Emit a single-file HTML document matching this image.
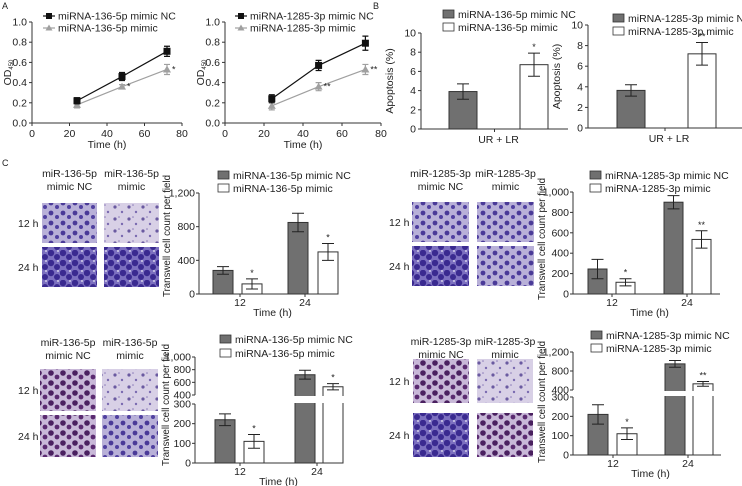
<!DOCTYPE html>
<html><head><meta charset="utf-8"><style>
body{margin:0;background:#fff}
svg{display:block;font-family:"Liberation Sans",sans-serif}
</style></head><body>
<svg id="fig" width="742" height="486" viewBox="0 0 742 486" xmlns="http://www.w3.org/2000/svg">
<defs>
<pattern id="sparse" width="14" height="12" patternUnits="userSpaceOnUse"><rect width="14" height="12" fill="#d8d0e6"/><circle cx="3" cy="3" r="1.6" fill="#6a5aa0"/><circle cx="10" cy="8" r="1.2" fill="#7a6ab0"/><circle cx="7" cy="1" r="0.8" fill="#8a7ab8"/></pattern>
<pattern id="mid" width="12" height="10" patternUnits="userSpaceOnUse"><rect width="12" height="10" fill="#b8b0d8"/><circle cx="3" cy="3" r="2.4" fill="#4a3a98"/><circle cx="9" cy="7" r="2" fill="#5040a0"/></pattern>
<pattern id="dense" width="12" height="10" patternUnits="userSpaceOnUse"><rect width="12" height="10" fill="#7c70c0"/><circle cx="3" cy="3" r="3.2" fill="#3a2a90"/><circle cx="9" cy="7" r="3" fill="#3a2a90"/><circle cx="10" cy="1" r="1" fill="#d0cce8"/></pattern>
<pattern id="purple" width="12" height="10" patternUnits="userSpaceOnUse"><rect width="12" height="10" fill="#c8b8d8"/><circle cx="3" cy="3" r="2.8" fill="#4a2060"/><circle cx="9" cy="7" r="2.4" fill="#5a2a70"/></pattern>
</defs>
</svg>
<script>
// ---------- data ----------
const lineTimes=[24,48,72];
const a1NC=[0.22,0.46,0.71], a1NCerr=[0.03,0.04,0.05];
const a1Mi=[0.18,0.36,0.53], a1Mierr=[0.03,0.02,0.05];
const a2NC=[0.24,0.57,0.79], a2NCerr=[0.04,0.05,0.07];
const a2Mi=[0.17,0.36,0.53], a2Mierr=[0.04,0.04,0.05];
const lineXTicks=[0,20,40,60,80];
const lineYTicks=[0.0,0.2,0.4,0.6,0.8,1.0];
const b1Vals=[3.9,6.7], b1Err=[0.8,1.2];
const b2Vals=[3.65,7.2], b2Err=[0.55,1.1];
const bYTicks=[0,2,4,6,8,10];
const cCats=["12","24"];
const c1NC=[280,850], c1NCerr=[45,110], c1Mi=[120,500], c1Mierr=[60,100];
const c1Ticks=[0,400,800,1200];
const c2NC=[245,900], c2NCerr=[95,65], c2Mi=[115,535], c2Mierr=[35,85];
const c2Ticks=[0,200,400,600,800,1000];
const c3NC=[220,720], c3NCerr=[30,70], c3Mi=[110,530], c3Mierr=[35,50];
const c3LowTicks=[0,100,200,300], c3HighTicks=[400,600,800,1000];
const c4NC=[210,950], c4NCerr=[50,70], c4Mi=[110,530], c4Mierr=[30,50];
const c4LowTicks=[0,100,200,300], c4HighTicks=[400,800,1200];

const svg=document.getElementById('fig');
const NS='http://www.w3.org/2000/svg';
function el(tag,attrs,parent){const e=document.createElementNS(NS,tag);for(const k in attrs)e.setAttribute(k,attrs[k]);(parent||svg).appendChild(e);return e;}
function txt(s,x,y,attrs,parent){const t=el('text',Object.assign({x:x,y:y,'font-size':10.5,fill:'#222'},attrs||{}),parent);t.textContent=s;return t;}
function fmt(v){return v>=1000?(Math.floor(v/1000)+','+String(v%1000).padStart(3,'0')):String(v);}

[["A",2,9],["B",373,9],["C",2,166]].forEach(p=>{const t=txt(p[0],p[1],p[2],{'font-size':9});

});

// ---------- line charts ----------
function lineChart(name,x0,x1,xmax,yb,yt,ymax,nc,ncE,mi,miE,miStars,legNC,legMi,lx){
  const g=el('g',{});
  
  
  const X=v=>x0+(x1-x0)*v/xmax, Y=v=>yb-(yb-yt)*v/ymax;
  el('line',{x1:x0,y1:yb,x2:x1,y2:yb,stroke:'#333'},g);
  el('line',{x1:x0,y1:yb,x2:x0,y2:yt,stroke:'#333'},g);
  lineXTicks.forEach(v=>{el('line',{x1:X(v),y1:yb,x2:X(v),y2:yb+3,stroke:'#333'},g);
    const t=txt(String(v),X(v),yb+14,{'text-anchor':'middle'},g);
    });
  lineYTicks.forEach(v=>{el('line',{x1:x0-3,y1:Y(v),x2:x0,y2:Y(v),stroke:'#333'},g);
    const t=txt(v.toFixed(1),x0-5,Y(v)+3.5,{'text-anchor':'end'},g);
    });
  const xt=txt('Time (h)',(x0+X(80))/2,yb+25,{'text-anchor':'middle'},g);
  
  const yt2=el('text',{x:0,y:0,'font-size':10.5,fill:'#222','text-anchor':'middle',transform:`translate(${x0-21},${(yb+yt)/2}) rotate(-90)`},g);
  yt2.innerHTML='OD<tspan font-size="6" dy="2">450</tspan>';
  
  [[mi,miE,'#a0a0a0','tri'],[nc,ncE,'#111','sq']].forEach(s=>{
    const pts=lineTimes.map((t,i)=>X(t)+','+Y(s[0][i])).join(' ');
    const pl=el('polyline',{points:pts,fill:'none',stroke:s[2],'stroke-width':1.2},g);
    
    lineTimes.forEach((t,i)=>{const x=X(t),y=Y(s[0][i]),e=s[1][i];
      el('path',{d:`M${x},${Y(s[0][i]+e)}V${Y(s[0][i]-e)}M${x-3},${Y(s[0][i]+e)}h6M${x-3},${Y(s[0][i]-e)}h6`,stroke:s[2],'stroke-width':1.2,fill:'none'},g);
      let m;
      if(s[3]==='sq') m=el('rect',{x:x-3.5,y:y-3.5,width:7,height:7,fill:s[2]},g);
      else m=el('path',{d:`M${x},${y-4}L${x+4},${y+3}L${x-4},${y+3}Z`,fill:s[2]},g);
      
      if(s[3]==='tri'&&i>0){const st=txt(miStars[i],x+5,y+3,{'font-size':9},g);
        }
    });
  });
  [[legNC,'#111','sq',16],[legMi,'#a0a0a0','tri',28]].forEach(l=>{
    el('line',{x1:lx-6,y1:l[3],x2:lx+6,y2:l[3],stroke:l[1],'stroke-width':1.2},g);
    if(l[2]==='sq') el('rect',{x:lx-3,y:l[3]-3,width:6,height:6,fill:l[1]},g);
    else el('path',{d:`M${lx},${l[3]-3.5}L${lx+3.5},${l[3]+2.5}L${lx-3.5},${l[3]+2.5}Z`,fill:l[1]},g);
    const t=txt(l[0],lx+9,l[3]+3.5,{'font-size':10.5},g);
    
  });
}
lineChart('line-chart-136',32,182,80,123,22,1.0,a1NC,a1NCerr,a1Mi,a1Mierr,['','*','*'],'miRNA-136-5p mimic NC','miRNA-136-5p mimic',49);
lineChart('line-chart-1285',225,381,80,123,22,1.0,a2NC,a2NCerr,a2Mi,a2Mierr,['','**','**'],'miRNA-1285-3p mimic NC','miRNA-1285-3p mimic',241);

function legend(g,x,y1,y2,ncText,miText){
  [[ncText,'#707070',y1],[miText,'#fff',y2]].forEach(l=>{
    const r=el('rect',{x:x,y:l[2]-4,width:11,height:8,fill:l[1],stroke:'#333','stroke-width':0.8},g);
    
    const t=txt(l[0],x+15,l[2]+4,{'font-size':10.5},g);
    
  });
}
function errBar(g,x,yTop,yBot,w){
  el('path',{d:`M${x},${yTop}V${yBot}M${x-w},${yTop}h${2*w}M${x-w},${yBot}h${2*w}`,stroke:'#222','stroke-width':1,fill:'none'},g);
}

// ---------- apoptosis bars ----------
function apopChart(name,x0,x1,yb,yt,vals,errs,bx,bw,stars,ncText,miText,lx,ly1,ly2){
  const g=el('g',{});
  
  
  const Y=v=>yb-(yb-yt)*v/10;
  el('line',{x1:x0,y1:yb,x2:x1,y2:yb,stroke:'#333'},g);
  el('line',{x1:x0,y1:yb,x2:x0,y2:yt,stroke:'#333'},g);
  el('line',{x1:(x0+x1)/2,y1:yb,x2:(x0+x1)/2,y2:yb+3,stroke:'#333'},g);
  bYTicks.forEach(v=>{el('line',{x1:x0-3,y1:Y(v),x2:x0,y2:Y(v),stroke:'#333'},g);
    const t=txt(String(v),x0-5,Y(v)+3.5,{'text-anchor':'end'},g);
    });
  vals.forEach((v,i)=>{
    const r=el('rect',{x:bx[i],y:Y(v),width:bw,height:yb-Y(v),fill:i?'#fff':'#707070',stroke:'#333','stroke-width':1},g);
    
    errBar(g,bx[i]+bw/2,Y(v+errs[i]),Y(v-errs[i]),6);
    if(stars[i]){const s=txt(stars[i],bx[i]+bw/2,Y(v+errs[i])-3,{'text-anchor':'middle','font-size':9},g);
      }
  });
  const xt=txt('UR + LR',(x0+x1)/2+4,yb+14,{'text-anchor':'middle'},g);
  
  const yt2=txt('Apoptosis (%)',0,0,{'text-anchor':'middle',transform:`translate(${x0-28},${(yb+yt)/2}) rotate(-90)`},g);
  
  legend(g,lx,ly1,ly2,ncText,miText);
}
apopChart('apoptosis-chart-136',421,568,129,33,b1Vals,b1Err,[449,520],28,['','*'],'miRNA-136-5p mimic NC','miRNA-136-5p mimic',443,14,27);
apopChart('apoptosis-chart-1285',588,742,128,25,b2Vals,b2Err,[617,688],28,['','**'],'miRNA-1285-3p mimic NC','miRNA-1285-3p mimic',613,18,31);

// ---------- transwell images ----------
function images(prefix,hdr,x1,x2,w,hy,ry1,ry2,h,labx,fills){
  const g=el('g',{});
  
  
  [x1,x2].forEach((c,ci)=>{
    const t1=txt(hdr,c+w/2,hy,{'text-anchor':'middle'},g);
    
    const t2=txt(ci?'mimic':'mimic NC',c+w/2,hy+13,{'text-anchor':'middle'},g);
    
  });
  [[ry1,'12 h'],[ry2,'24 h']].forEach((r,ri)=>{
    const t=txt(r[1],labx,r[0]+h/2+4,{},g);
    
    [x1,x2].forEach((x,ci)=>{const im=el('rect',{x:x,y:r[0],width:w,height:h,fill:`url(#${fills[ri*2+ci]})`},g);
      });
  });
}
images('c1','miR-136-5p',42,104,55,177,203,247,40,18,['mid','sparse','dense','dense']);
images('c2','miR-1285-3p',412,477,57,177,202,246,40,389,['mid','mid','dense','mid']);
images('c3','miR-136-5p',40,102,56,346,369,415,42,18,['purple','sparse','purple','mid']);
images('c4','miR-1285-3p',413,477,56,345,359,413,44,389,['purple','sparse','dense','purple']);

// ---------- transwell bar charts ----------
function transChart(name,x0,x1,yb,cfg,nc,ncE,mi,miE,bx,bw,stars,ncText,miText,lx,ly1,ly2,catX,titleX,titleY){
  const g=el('g',{});
  
  
  let Y;
  if(!cfg.brk){Y=v=>yb-(yb-cfg.yt)*v/cfg.max;}
  else{Y=v=>v<=cfg.lowMax?yb-(yb-cfg.lowTop)*v/cfg.lowMax:cfg.upBot-(cfg.upBot-cfg.yt)*(v-cfg.upMin)/(cfg.max-cfg.upMin);}
  el('line',{x1:x0,y1:yb,x2:x1,y2:yb,stroke:'#333'},g);
  if(!cfg.brk) el('line',{x1:x0,y1:yb,x2:x0,y2:cfg.yt,stroke:'#333'},g);
  else{el('line',{x1:x0,y1:yb,x2:x0,y2:cfg.lowTop,stroke:'#333'},g);
       el('line',{x1:x0,y1:cfg.upBot,x2:x0,y2:cfg.yt,stroke:'#333'},g);}
  cfg.ticks.forEach(v=>{el('line',{x1:x0-3,y1:Y(v),x2:x0,y2:Y(v),stroke:'#333'},g);
    const t=txt(fmt(v),x0-4,Y(v)+3.5,{'text-anchor':'end'},g);
    });
  cCats.forEach((c,i)=>{el('line',{x1:catX[i],y1:yb,x2:catX[i],y2:yb+3,stroke:'#333'},g);
    const t=txt(c,catX[i],yb+12,{'text-anchor':'middle'},g);
    });
  const xt=txt('Time (h)',(catX[0]+catX[1])/2,yb+22,{'text-anchor':'middle'},g);
  
  const yt2=txt('Transwell cell count per field',0,0,{'text-anchor':'middle','font-size':10,textLength:122,lengthAdjust:'spacingAndGlyphs',transform:`translate(${titleX},${titleY}) rotate(-90)`},g);
  
  [[nc,ncE,'#707070',0],[mi,miE,'#fff',1]].forEach(s=>{
    s[0].forEach((v,i)=>{const x=bx[i][s[3]];
      const r=el('rect',{x:x,y:Y(v),width:bw,height:yb-Y(v),fill:s[2],stroke:'#333','stroke-width':1},g);
      
      if(cfg.brk&&v>cfg.lowMax) el('rect',{x:x-1,y:cfg.upBot+1,width:bw+2,height:cfg.lowTop-cfg.upBot-2,fill:'#fff'},g);
      errBar(g,x+bw/2,Y(v+s[1][i]),Y(v-s[1][i]),6);
      if(s[3]&&stars[i]){const st=txt(stars[i],x+bw/2,Y(v+s[1][i])-3,{'text-anchor':'middle','font-size':9},g);
        }
    });
  });
  legend(g,lx,ly1,ly2,ncText,miText);
}
transChart('transwell-chart-136-top',199,335,294,{yt:193,max:1200,ticks:c1Ticks},c1NC,c1NCerr,c1Mi,c1Mierr,[[213,242],[288,318]],20,['*','*'],'miRNA-136-5p mimic NC','miRNA-136-5p mimic',218,175,188,[240,305],170,236);
transChart('transwell-chart-1285-top',573,720,294,{yt:192,max:1000,ticks:c2Ticks},c2NC,c2NCerr,c2Mi,c2Mierr,[[588,616],[664,692]],19,['*','**'],'miRNA-1285-3p mimic NC','miRNA-1285-3p mimic',590,175,188,[612,687],545,239);
transChart('transwell-chart-136-bottom',195,340,463,{brk:true,lowMax:300,lowTop:404,upMin:400,upBot:395,yt:357,max:1000,ticks:c3LowTicks.concat(c3HighTicks)},c3NC,c3NCerr,c3Mi,c3Mierr,[[215,244],[295,323]],20,['*','*'],'miRNA-136-5p mimic NC','miRNA-136-5p mimic',220,339,353,[240,317],169,405);
transChart('transwell-chart-1285-bottom',573,721,455,{brk:true,lowMax:300,lowTop:397,upMin:400,upBot:390,yt:352,max:1200,ticks:c4LowTicks.concat(c4HighTicks)},c4NC,c4NCerr,c4Mi,c4Mierr,[[588,617],[665,693]],20,['*','**'],'miRNA-1285-3p mimic NC','miRNA-1285-3p mimic',591,335,348,[613,688],545,402);
</script>
</body></html>
